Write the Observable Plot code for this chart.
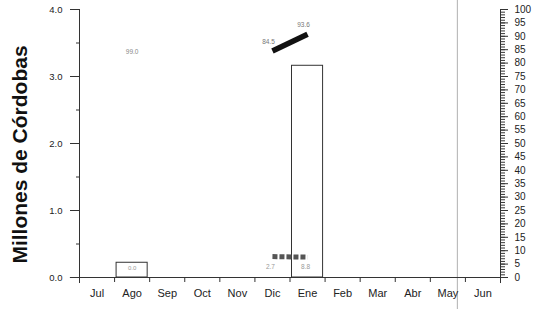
<!DOCTYPE html>
<html>
<head>
<meta charset="utf-8">
<script src="https://cdn.jsdelivr.net/npm/d3@7"></script>
<script src="https://cdn.jsdelivr.net/npm/@observablehq/plot@0.6"></script>
<style>
  html, body { margin: 0; padding: 0; background: #fff; }
  #chart svg { display: block; }
</style>
</head>
<body>
<div id="chart"></div>
<script>
// ---- data ----
const months = ["Jul", "Ago", "Sep", "Oct", "Nov", "Dic", "Ene", "Feb", "Mar", "Abr", "May", "Jun"];
const barValues = [0, 0.22, 0, 0, 0, 0, 3.16, 0, 0, 0, 0, 0];       // millones de córdobas
const barLabels = ["", "0.0", "", "", "", "", "", "", "", "", "", ""];
const pctMonths = ["Dic", "Ene"];
const pctValues = [84.5, 90.8];                                    // right axis, %
const pctLabels = ["84.5", "93.6"];
const lowMonths = ["Dic", "Ene"];
const lowValues = [7.8, 7.6];                                      // right axis, %
const lowLabels = ["2.7", "8.8"];
const noteMonth = "Ago";
const noteValue = 84.3;
const noteLabel = "99.0";
const leftTicks = [0, 1, 2, 3, 4];
const rightTicks = d3.range(0, 101, 5);
const todayPos = 10.77; // marker within "May"
const yTitle = "Millones de Córdobas";

// ---- derived tables ----
const idx = m => months.indexOf(m);
const bars = months.map((m, i) => ({i, v: barValues[i], label: barLabels[i]})).filter(d => d.v > 0);
const pct = pctMonths.map((m, k) => ({x: idx(m) + 0.5, y: pctValues[k] / 25, label: pctLabels[k]}));
const low = lowMonths.map((m, k) => ({x: idx(m) + 0.5, y: lowValues[k] / 25, label: lowLabels[k]}));

const axisColor = "#333";
const chart = Plot.plot({
  width: 536,
  height: 309,
  marginLeft: 79,
  marginRight: 36,
  marginTop: 9,
  marginBottom: 32,
  style: {fontFamily: "Liberation Sans, Arial, sans-serif", color: "#222", background: "#fff"},
  x: {type: "linear", domain: [0, 12]},
  y: {type: "linear", domain: [0, 4]},
  marks: [
    // today marker
    Plot.ruleX([todayPos], {y1: -0.48, y2: 4.14, stroke: "#b0b0b0", strokeWidth: 1}),
    // bars
    Plot.rectY(bars, {x1: d => d.i, x2: d => d.i + 1, y: "v", insetLeft: 2, insetRight: 2, fill: "white", stroke: "#333", strokeWidth: 1}),
    Plot.text(bars, {x: d => d.i + 0.5, y: "v", text: "label", dy: 5, fontSize: 6, fill: "#999"}),
    // axes lines
    Plot.ruleY([0], {x1: -0.26, x2: 12.0, stroke: axisColor}),
    Plot.ruleX([0], {y1: -0.09, y2: 4, stroke: axisColor}),
    Plot.ruleX([12], {y1: -0.09, y2: 4, stroke: axisColor}),
    // left axis
    Plot.axisY({ticks: leftTicks, tickSize: 9, tickPadding: 8, tickFormat: d3.format(".1f"), fontSize: 9.5, label: null, stroke: axisColor}),
    Plot.axisY({ticks: [0.5, 1.5, 2.5, 3.5], tickSize: 3, tickFormat: () => "", label: null, stroke: axisColor}),
    // right axis (percent)
    Plot.axisY({anchor: "right", ticks: rightTicks.map(v => v / 25), tickSize: 7, tickPadding: 7, tickFormat: d => String(Math.round(d * 25)), fontSize: 10, label: null, stroke: axisColor}),
    Plot.axisY({anchor: "right", ticks: d3.range(0, 101, 1).map(v => v / 25), tickSize: 4, tickFormat: () => "", label: null, stroke: axisColor}),
    // x axis
    Plot.axisX({ticks: d3.range(0, 13), tickSize: 5, tickFormat: () => "", label: null, stroke: axisColor}),
    Plot.axisX({ticks: d3.range(0, 12).map(i => i + 0.5), tickSize: 0, tickPadding: 12, tickFormat: d => months[Math.floor(d)], fontSize: 11, label: null}),
    // percent lines
    Plot.line(pct, {x: "x", y: "y", stroke: "#111", strokeWidth: 5.5, strokeLinecap: "butt"}),
    Plot.text(pct, {x: "x", y: "y", text: "label", dx: -4, dy: -9, fontSize: 6.5, fill: "#777"}),
    Plot.line(low, {x: "x", y: "y", stroke: "#555", strokeWidth: 5, strokeDasharray: "5,2", strokeLinecap: "butt"}),
    Plot.text(low, {x: "x", y: "y", text: "label", dx: -2, dy: 10, fontSize: 6.5, fill: "#999"}),
    Plot.text([noteLabel], {x: idx(noteMonth) + 0.5, y: noteValue / 25, fontSize: 6.5, fill: "#888"}),
    // y title
    Plot.text([yTitle], {frameAnchor: "left", textAnchor: "middle", rotate: -90, dx: -59, dy: 11, fontSize: 21, fontWeight: "bold", fill: "#111"})
  ]
});
document.getElementById("chart").appendChild(chart);
</script>
</body>
</html>
